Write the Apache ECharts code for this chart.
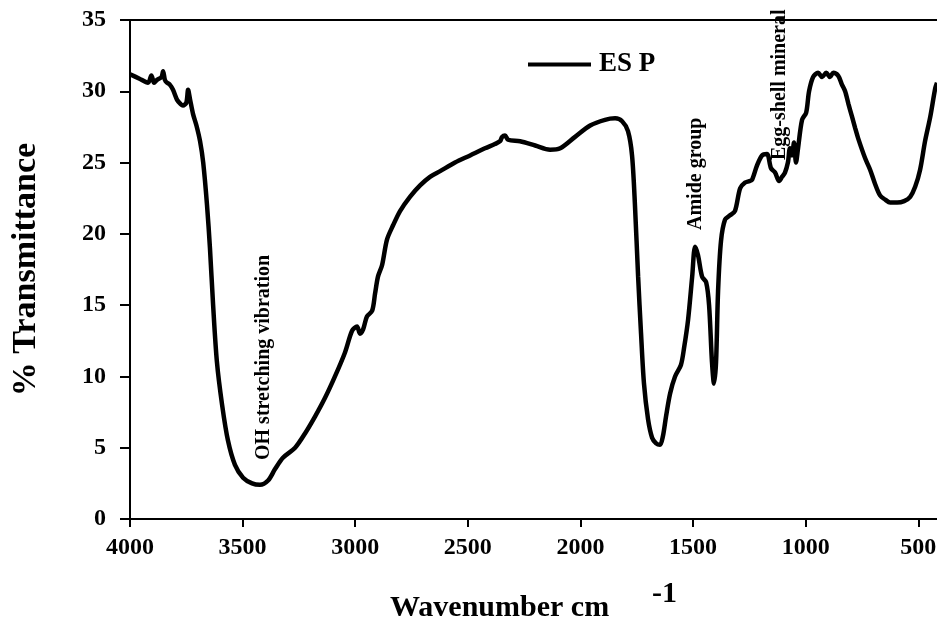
<!DOCTYPE html>
<html>
<head>
<meta charset="utf-8">
<script src="https://cdn.jsdelivr.net/npm/echarts@6/dist/echarts.min.js"></script>
<style>
html,body{margin:0;padding:0;background:#fff;}
#chart{width:937px;height:622px;}
</style>
</head>
<body>
<div id="chart"></div>
<script>
// Wavenumber (cm-1) and % transmittance
const wavenumbers = [4000,3960,3920,3905,3893,3880,3860,3853,3845,3836,3825,3809,3791,3775,3765,3750,3742,3733,3720,3705,3689,3675,3658,3645,3631,3614,3591,3565,3534,3498,3458,3423,3387,3356,3321,3267,3223,3178,3134,3090,3045,3014,2992,2979,2965,2948,2925,2912,2899,2881,2859,2832,2801,2757,2712,2668,2623,2557,2490,2424,2380,2357,2348,2335,2321,2268,2201,2135,2090,2024,1957,1891,1846,1815,1789,1771,1758,1744,1731,1718,1700,1682,1664,1647,1634,1620,1602,1580,1554,1540,1522,1504,1491,1478,1460,1442,1429,1416,1407,1398,1389,1376,1358,1336,1314,1291,1269,1250,1238,1216,1194,1172,1154,1136,1118,1105,1092,1079,1070,1061,1052,1043,1034,1016,998,985,967,945,927,909,892,878,856,840,825,810,794,780,767,736,714,692,670,647,625,594,563,536,514,492,470,447,425,417];
const transmittance = [31.2,30.9,30.6,31.1,30.6,30.8,31.0,31.4,30.8,30.6,30.5,30.1,29.4,29.1,29.0,29.2,30.1,29.4,28.4,27.6,26.5,25.0,22.0,19.0,15.0,11.0,8.0,5.5,3.8,2.9,2.5,2.4,2.7,3.5,4.3,5.0,6.0,7.2,8.5,10.0,11.7,13.2,13.5,13.0,13.3,14.2,14.6,15.8,17.0,17.8,19.6,20.6,21.6,22.6,23.4,24.0,24.4,25.0,25.5,26.0,26.3,26.5,26.8,26.9,26.6,26.5,26.2,25.9,26.0,26.8,27.6,28.0,28.1,27.9,27.2,25.5,22.0,17.0,13.0,9.5,7.0,5.7,5.3,5.2,5.8,7.2,8.8,10.0,10.8,12.0,14.0,17.0,19.1,18.5,17.0,16.6,15.0,11.0,9.5,11.0,16.0,19.5,21.0,21.3,21.6,23.2,23.6,23.7,23.8,24.8,25.5,25.6,24.6,24.3,23.7,24.0,24.3,25.0,26.0,25.5,26.4,25.0,26.0,28.0,28.5,30.0,31.0,31.3,31.0,31.3,31.0,31.3,31.1,30.5,30.0,29.1,28.2,27.4,26.7,25.3,24.5,23.5,22.7,22.4,22.2,22.2,22.3,22.6,23.3,24.5,26.5,28.2,30.2,30.6];
const xTicks = [500,1000,1500,2000,2500,3000,3500,4000];
const yTicks = [0,5,10,15,20,25,30,35];
const seriesName = 'ES P';

const FONT = '"Liberation Serif","Times New Roman",serif';
const chart = echarts.init(document.getElementById('chart'), null, {renderer:'canvas'});
const data = wavenumbers.map((w,i)=>[w, transmittance[i]]);

chart.setOption({
  backgroundColor:'#fff',
  animation:false,
  grid:{left:130, right:0, top:20, bottom:103, containLabel:false, outerBoundsMode:'none'},
  legend:{
    show:true, left:523, top:46, icon:'rect', itemWidth:63, itemHeight:4, itemGap:10,
    data:[seriesName],
    textStyle:{fontFamily:FONT, fontWeight:'bold', fontSize:27, color:'#000', padding:[0,0,0,3]}
  },
  xAxis:[{
    type:'value', inverse:true, min:417, max:4000,
    splitLine:{show:false},
    axisLine:{show:true, onZero:false, lineStyle:{color:'#000', width:2}},
    axisTick:{show:true, inside:false, length:8, customValues:xTicks, lineStyle:{color:'#000', width:2}},
    axisLabel:{customValues:xTicks, margin:17, formatter:v=>String(v), fontFamily:FONT, fontWeight:'bold', fontSize:24, color:'#000'}
  },{
    type:'value', inverse:true, min:417, max:4000, position:'top',
    splitLine:{show:false},
    axisLine:{show:true, onZero:false, lineStyle:{color:'#000', width:2}},
    axisTick:{show:false}, axisLabel:{show:false}
  }],
  yAxis:{
    type:'value', min:0, max:35, interval:5,
    splitLine:{show:false},
    axisLine:{show:true, onZero:false, lineStyle:{color:'#000', width:2}},
    axisTick:{show:true, length:10, lineStyle:{color:'#000', width:2}},
    axisLabel:{margin:24, formatter:v=>String(v), fontFamily:FONT, fontWeight:'bold', fontSize:24, color:'#000'},
    name:'% Transmittance', nameLocation:'middle', nameGap:87,
    nameTextStyle:{fontFamily:FONT, fontWeight:'bold', fontSize:34, color:'#000'}
  },
  series:[{
    name:seriesName, type:'line', data:data, showSymbol:false, smooth:0.3,
    lineStyle:{color:'#000', width:4.5}, itemStyle:{color:'#000'}
  }],
  graphic:[
    {type:'text', left:390, top:593, style:{text:'Wavenumber cm', font:'bold 30px '+FONT, fill:'#000'}},
    {type:'text', left:652, top:579, style:{text:'-1', font:'bold 30px '+FONT, fill:'#000'}},
    {type:'text', x:254, y:460, rotation:Math.PI/2, style:{text:'OH stretching vibration', font:'bold 20px '+FONT, fill:'#000'}},
    {type:'text', x:686, y:230, rotation:Math.PI/2, style:{text:'Amide group', font:'bold 20px '+FONT, fill:'#000'}},
    {type:'text', x:770, y:160, rotation:Math.PI/2, style:{text:'Egg-shell mineral', font:'bold 20px '+FONT, fill:'#000'}}
  ]
});
</script>
</body>
</html>
